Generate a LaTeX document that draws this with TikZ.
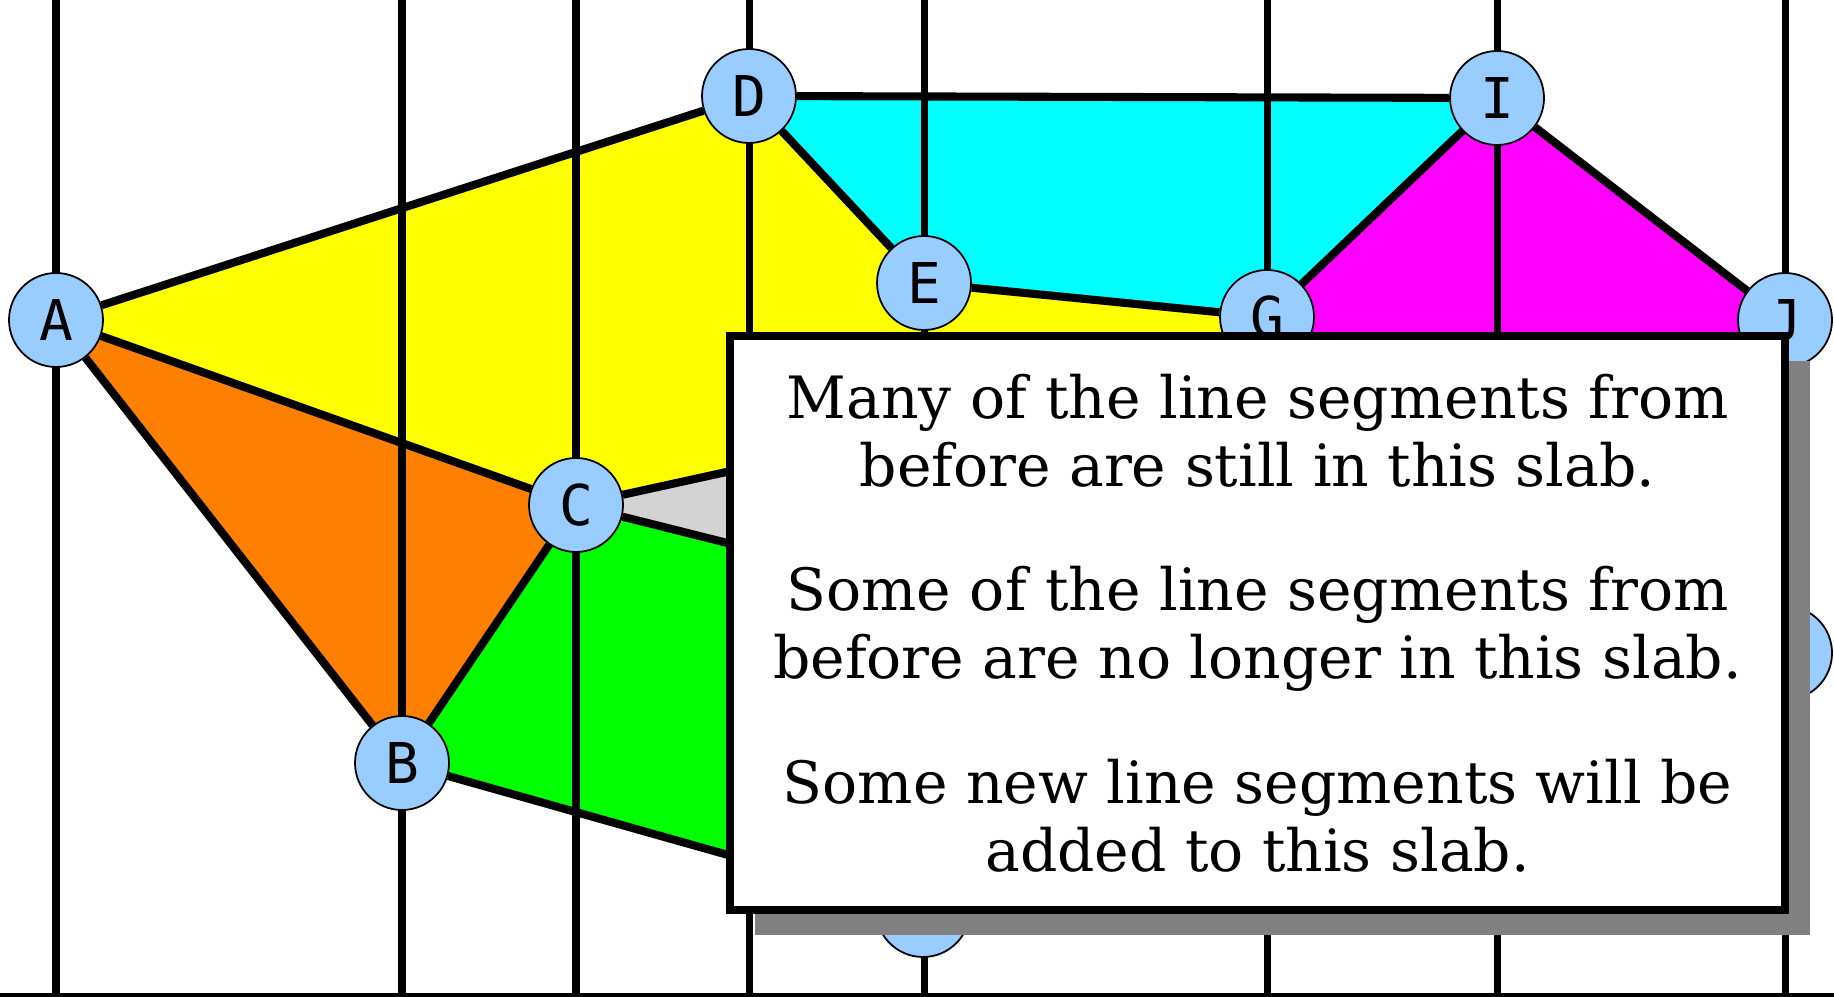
\documentclass[tikz,border=0pt]{standalone}
\usepackage{fontspec}
\setmainfont{DejaVu Serif}
\setmonofont{DejaVu Sans Mono}
\usepackage{xcolor}
\usetikzlibrary{backgrounds,shadows}

\definecolor{vertexblue}{RGB}{153,204,255}
\definecolor{regiongray}{RGB}{211,211,211}
\definecolor{regionorange}{RGB}{255,128,0}
\definecolor{regionyellow}{RGB}{255,255,0}
\definecolor{regioncyan}{RGB}{0,255,255}
\definecolor{regionmagenta}{RGB}{255,0,255}
\definecolor{regiongreen}{RGB}{0,255,0}
\definecolor{shadowgray}{RGB}{128,128,128}

\begin{document}
\begin{tikzpicture}[
    vertex/.style={circle, draw, line width=0.5pt, fill=vertexblue, minimum size=0.94cm, inner sep=0pt, font=\ttfamily\fontsize{16}{16}\selectfont},
    seg/.style={line width=2.3pt},
    slab/.style={line width=2pt},
    note/.style={rectangle, draw, line width=2.1pt, fill=white, minimum width=10.55cm, minimum height=5.74cm, align=center, font=\fontsize{16.6}{19.4}\selectfont, drop shadow={shadow xshift=0.25cm, shadow yshift=-0.25cm, fill=shadowgray, opacity=1}}]

    \useasboundingbox (0,0) rectangle (18.34,-9.97);
    \coordinate (top) at (0,0);
    \coordinate (bot) at (0,-9.97);
    \coordinate (bl) at (0,-9.95);
    \coordinate (br) at (18.34,-9.95);

    % vertices
    \node [vertex] (A) at (0.56,-3.20) {A};
    \node [vertex] (B) at (4.02,-7.63) {B};
    \node [vertex] (C) at (5.76,-5.05) {C};
    \node [vertex] (D) at (7.49,-0.96) {D};
    \node [vertex] (E) at (9.24,-2.83) {E};
    \node [vertex] (F) at (9.23,-9.10) {};
    \node [vertex] (G) at (12.67,-3.17) {G};
    \node [vertex] (I) at (14.97,-0.98) {I};
    \node [vertex] (J) at (17.85,-3.20) {J};
    \node [vertex] (K) at (17.85,-6.53) {};

    % hidden ends behind the note
    \coordinate (u) at (10.5,-4.01);
    \coordinate (l) at (10.5,-6.24);
    \coordinate (w) at (12.67,-4.2);

    \begin{pgfonlayer}{background}
        % regions
        \fill [regionyellow] (A.center) -- (D.center) -- (E.center) -- (G.center) -- (w) -- (u) -- (C.center) -- cycle;
        \fill [regioncyan] (D.center) -- (I.center) -- (G.center) -- (E.center) -- cycle;
        \fill [regionmagenta] (G.center) -- (I.center) -- (J.center) -- (K.center) -- (w) -- cycle;
        \fill [regionorange] (A.center) -- (C.center) -- (B.center) -- cycle;
        \fill [regiongreen] (B.center) -- (C.center) -- (l) -- (F.center) -- cycle;
        \fill [regiongray] (C.center) -- (u) -- (l) -- cycle;

        % slabs
        \foreach \v in {A,B,C,D,E,G,I,J}
            \draw [slab] (\v |- top) -- (\v |- bot);
        \draw [line width=0.04cm] (bl) -- (br);

        % segments
        \draw [seg] (A) -- (D);
        \draw [seg] (D) -- (I);
        \draw [seg] (D) -- (E);
        \draw [seg] (E) -- (G);
        \draw [seg] (G) -- (I);
        \draw [seg] (I) -- (J);
        \draw [seg] (A) -- (C);
        \draw [seg] (A) -- (B);
        \draw [seg] (B) -- (C);
        \draw [seg] (C) -- (u);
        \draw [seg] (C) -- (l);
        \draw [seg] (B) -- (F);
    \end{pgfonlayer}

    \node [note] (msg) at (12.575,-6.23) {Many of the line segments from\\before are still in this slab.\\[16pt]Some of the line segments from\\before are no longer in this slab.\\[16pt]Some new line segments will be\\added to this slab.};
\end{tikzpicture}
\end{document}
